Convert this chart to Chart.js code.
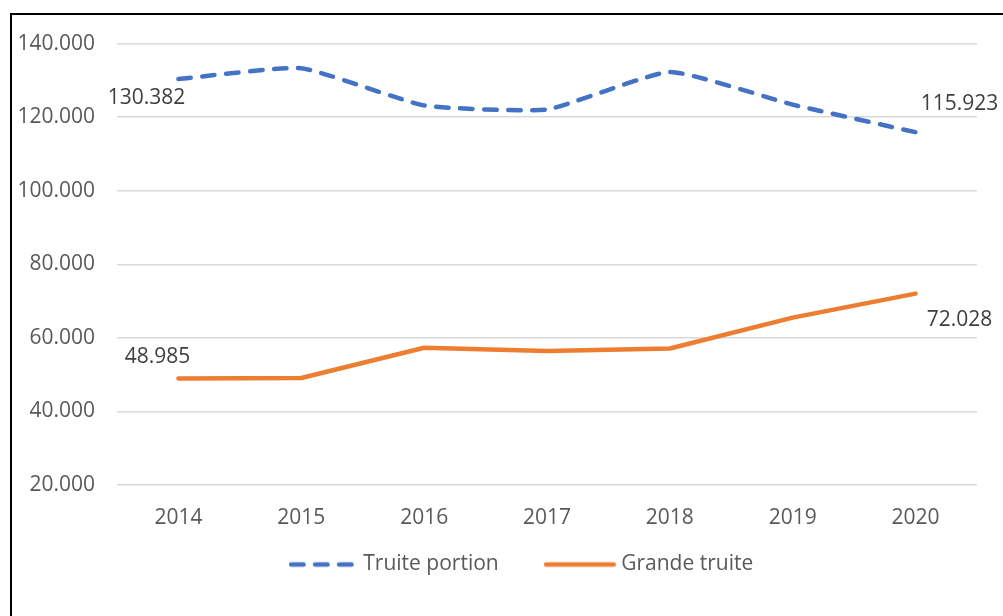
<!DOCTYPE html>
<html>
<head>
<meta charset="utf-8">
<script src="https://cdn.jsdelivr.net/npm/chart.js@4/dist/chart.umd.min.js"></script>
<style>
  html, body { margin: 0; padding: 0; background: #fff; overflow: hidden; width: 1003px; height: 616px; }
  #frame { position: absolute; left: 10px; top: 13px; width: 1020px; height: 620px; border: 2px solid #000; }
  #wrap { position: relative; top: -6px; width: 1020px; height: 620px; }
</style>
</head>
<body>
<div id="frame"><div id="wrap"><canvas id="chart"></canvas></div></div>
<script>
// data
const years = ['2014', '2015', '2016', '2017', '2018', '2019', '2020'];
const truitePortion = [130382, 133300, 123200, 122100, 132300, 123400, 115923];
const grandeTruite = [48985, 49100, 57300, 56400, 57100, 65500, 72028];
const seriesNames = ['Truite portion', 'Grande truite'];
const yTicks = [20000, 40000, 60000, 80000, 100000, 120000, 140000];

const fontFamily = '"Open Sans", "Noto Sans", sans-serif';
const blue = '#4472C4';
const orange = '#ED7D31';
const dash = [12.5, 11.5];

function fmt(v) {
    return String(Math.round(v)).replace(/\B(?=(\d{3})+(?!\d))/g, '.');
}

// small line swatch used as legend point style (legend ignores borderDash for point styles)
function swatch(color, width, lineDash) {
    const c = document.createElement('canvas');
    c.width = width;
    c.height = 8;
    const g = c.getContext('2d');
    g.strokeStyle = color;
    g.lineWidth = 4.5;
    g.lineCap = 'round';
    g.setLineDash(lineDash);
    g.beginPath();
    g.moveTo(2.25, 4);
    g.lineTo(width - 2.25, 4);
    g.stroke();
    return c;
}

// draws the value labels next to first and last points (Excel style, manually placed)
const valueLabels = {
    id: 'valueLabels',
    afterDatasetsDraw(chart, args, opts) {
        const ctx = chart.ctx;
        ctx.save();
        ctx.font = `21px ${fontFamily}`;
        ctx.fillStyle = '#404040';
        ctx.textAlign = 'center';
        ctx.textBaseline = 'middle';
        opts.items.forEach(item => {
            const meta = chart.getDatasetMeta(item.dataset);
            const pt = meta.data[item.index];
            const value = chart.data.datasets[item.dataset].data[item.index];
            ctx.fillText(fmt(value), pt.x + item.dx, pt.y + item.dy);
        });
        ctx.restore();
    }
};

const ctx = document.getElementById('chart').getContext('2d');
new Chart(ctx, {
    type: 'line',
    data: {
        labels: years,
        datasets: [{
            label: seriesNames[0],
            data: truitePortion,
            borderColor: blue,
            backgroundColor: blue,
            borderWidth: 4.5,
            borderDash: dash,
            borderCapStyle: 'round',
            borderJoinStyle: 'round',
            tension: 0.15,
            pointRadius: 0,
            pointStyle: swatch(blue, 66, dash)
        }, {
            label: seriesNames[1],
            data: grandeTruite,
            borderColor: orange,
            backgroundColor: orange,
            borderWidth: 4.5,
            borderCapStyle: 'round',
            borderJoinStyle: 'round',
            tension: 0,
            pointRadius: 0,
            pointStyle: swatch(orange, 72, [])
        }]
    },
    options: {
        responsive: true,
        maintainAspectRatio: false,
        animation: false,
        events: [],
        layout: { padding: { top: 21, left: 0, right: 0, bottom: 44 } },
        scales: {
            x: {
                offset: true,
                grid: { display: false },
                border: { display: false },
                ticks: {
                    color: '#595959',
                    font: { family: fontFamily, size: 21 },
                    mirror: true, // keeps the labels from being clipped to the short axis box
                    padding: -46,
                    maxRotation: 0,
                    autoSkip: false
                },
                afterFit: s => { s.height = 19; }
            },
            y: {
                min: 20000,
                max: 140000,
                afterBuildTicks: s => { s.ticks = yTicks.map(v => ({ value: v })); },
                grid: { color: '#D9D9D9', lineWidth: 1.5, drawTicks: false },
                border: { display: false },
                ticks: {
                    color: '#595959',
                    font: { family: fontFamily, size: 21 },
                    padding: 22,
                    callback: v => fmt(v)
                },
                afterFit: s => { s.width = 105; }
            },
            yr: {
                position: 'right',
                display: true,
                grid: { display: false },
                border: { display: false },
                ticks: { display: false },
                afterFit: s => { s.width = 55; }
            }
        },
        plugins: {
            tooltip: { enabled: false },
            legend: {
                position: 'bottom',
                labels: {
                    usePointStyle: true,
                    pointStyleWidth: 62,
                    boxHeight: 21,
                    padding: 50,
                    color: '#595959',
                    font: { family: fontFamily, size: 21 }
                }
            },
            valueLabels: {
                items: [
                    { dataset: 0, index: 0, dx: -32, dy: 19 },
                    { dataset: 0, index: 6, dx: 44, dy: -28 },
                    { dataset: 1, index: 0, dx: -21, dy: -21 },
                    { dataset: 1, index: 6, dx: 44, dy: 26 }
                ]
            }
        }
    },
    plugins: [valueLabels]
});
</script>
</body>
</html>
